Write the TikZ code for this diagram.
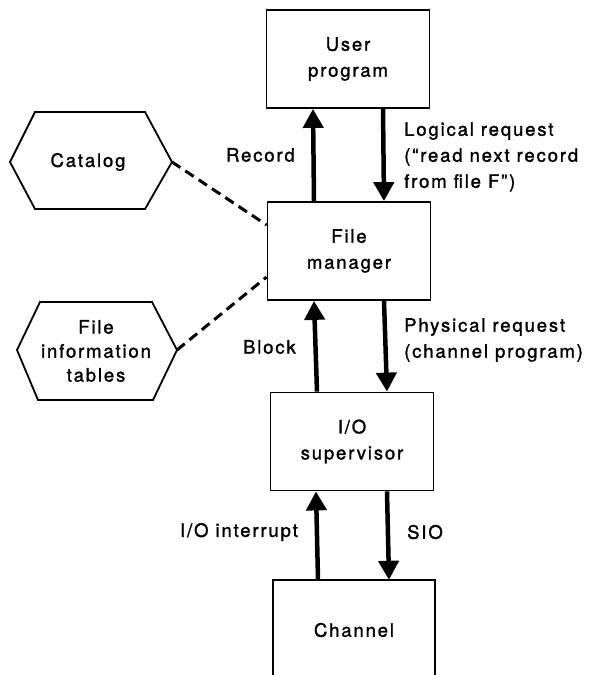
\documentclass[tikz,border=0pt]{standalone}
\usepackage{fontspec}
\setmainfont{TeX Gyre Heros}[LetterSpace=10,FakeBold=1.5]
\usetikzlibrary{arrows.meta}
\begin{document}
\begin{tikzpicture}[x=1pt,y=-1pt,
  every node/.style={font=\fontsize{18.5}{26}\selectfont},
  box/.style={draw,line width=1.8pt,minimum width=163pt,minimum height=98pt,align=center,inner sep=0pt},
  hex/.style={draw,line width=1.8pt,line join=miter},
  flow/.style={line width=4.5pt,-{Triangle[length=19pt,width=20pt]}},
  link/.style={line width=3pt,dash pattern=on 10pt off 6pt},
  lab/.style={inner sep=0pt,align=left}]
\useasboundingbox (0,0) rectangle (598,675);

% layers of the file system
\node[box] (up)  at (348,59)  {User\\program};
\node[box] (fm)  at (349,251) {File\\manager};
\node[box] (ios) at (352,441.5) {I/O\\supervisor};
\node[minimum width=162pt,minimum height=100pt,inner sep=0pt] (ch) at (354,630) {Channel};
\draw[line width=1.8pt] (ch.south west) -- (ch.north west) -- (ch.north east) -- (ch.south east);

% side tables
\draw[hex] (10,162) -- (35,112) -- (145,112) -- (172,162) -- (145,209) -- (35,209) -- cycle;
\coordinate (catR) at (172,162);
\node[align=center] (cat) at (88,162) {Catalog};
\draw[hex] (17,350) -- (40,302) -- (152,302) -- (177,350) -- (153,400) -- (38,400) -- cycle;
\coordinate (fitR) at (177,350);
\node[align=center,font=\fontsize{18.5}{24}\selectfont] (fit) at (96,351) {File\\information\\tables};

\draw[link] (catR) -- (fm.west |- 0,225);
\draw[link] (fitR) -- (fm.west |- 0,277);

% requests down, results up
\draw[flow] ([xshift=-35pt]fm.north) -- ([xshift=-35pt]up.south);
\draw[flow] ([xshift=35pt]up.south) -- ([xshift=35pt]fm.north);
\draw[flow] ([xshift=-35pt]ios.north) -- ([xshift=-35pt]fm.south);
\draw[flow] ([xshift=35pt]fm.south) -- ([xshift=35pt]ios.north);
\draw[flow] ([xshift=-36pt]ch.north) -- ([xshift=-36pt]ios.south);
\draw[flow] ([xshift=35pt]ios.south) -- ([xshift=35pt]ch.north);

% labels
\node[lab,anchor=east] (lrec) at (295,155) {Record};
\node[lab,anchor=east] (lblk) at (296,347) {Block};
\node[lab,anchor=east] (lint) at (298,532) {I/O interrupt};
\node[lab,anchor=west] (llog) at (404,157) {Logical request\\(``read next record\\from file F'')};
\node[lab,anchor=west] (lphy) at (404,340) {Physical request\\(channel program)};
\node[lab,anchor=west] (lsio) at (407,532) {SIO};
\end{tikzpicture}
\end{document}
